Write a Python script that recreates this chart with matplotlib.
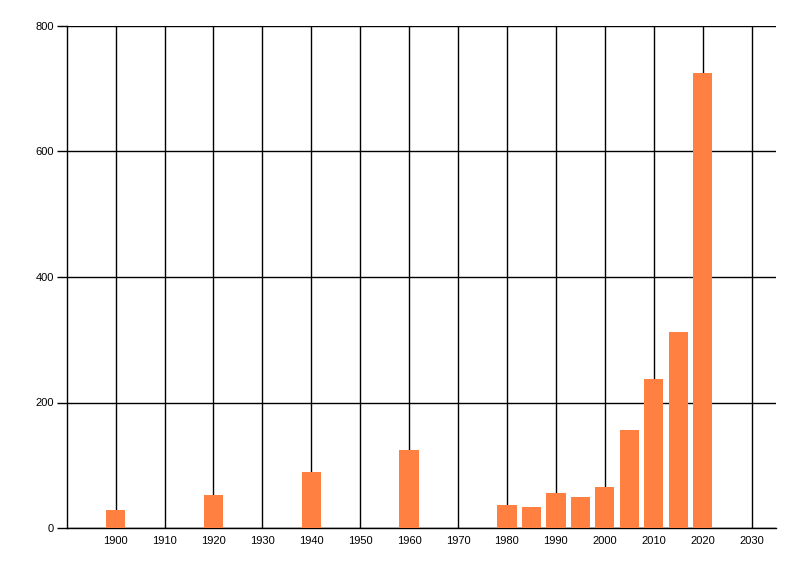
import matplotlib
matplotlib.use("Agg")
import matplotlib.pyplot as plt

years = [1900, 1920, 1940, 1960, 1980, 1985, 1990, 1995, 2000, 2005, 2010, 2015, 2020]
values = [28, 52, 90, 124, 37, 34, 55, 50, 66, 156, 238, 313, 725]
xticks = list(range(1900, 2031, 10))
yticks = [0, 200, 400, 600, 800]

plt.rcParams['font.family'] = ['Liberation Sans', 'DejaVu Sans']
fig = plt.figure(figsize=(8, 5.76), dpi=100)
ax = fig.add_axes([66.7/800, 1-528/576, (776-66.7)/800, (528-26)/576])
ax.set_axisbelow(True)
ax.bar(years, values, width=3.95, color='#FF8040', zorder=3)
ax.set_xlim(1890, 2035)
ax.set_ylim(0, 800)
ax.set_xticks(xticks)
ax.set_yticks(yticks)
ax.grid(True, color='black', linewidth=1)
for s in ['top', 'right']:
    ax.spines[s].set_visible(False)
ax.spines['left'].set_linewidth(1)
ax.spines['bottom'].set_linewidth(1)
ax.tick_params(axis='x', length=0, pad=6, labelsize=8)
ax.tick_params(axis='y', length=7, width=1, pad=2, labelsize=8)
fig.savefig('out.png', dpi=100)
